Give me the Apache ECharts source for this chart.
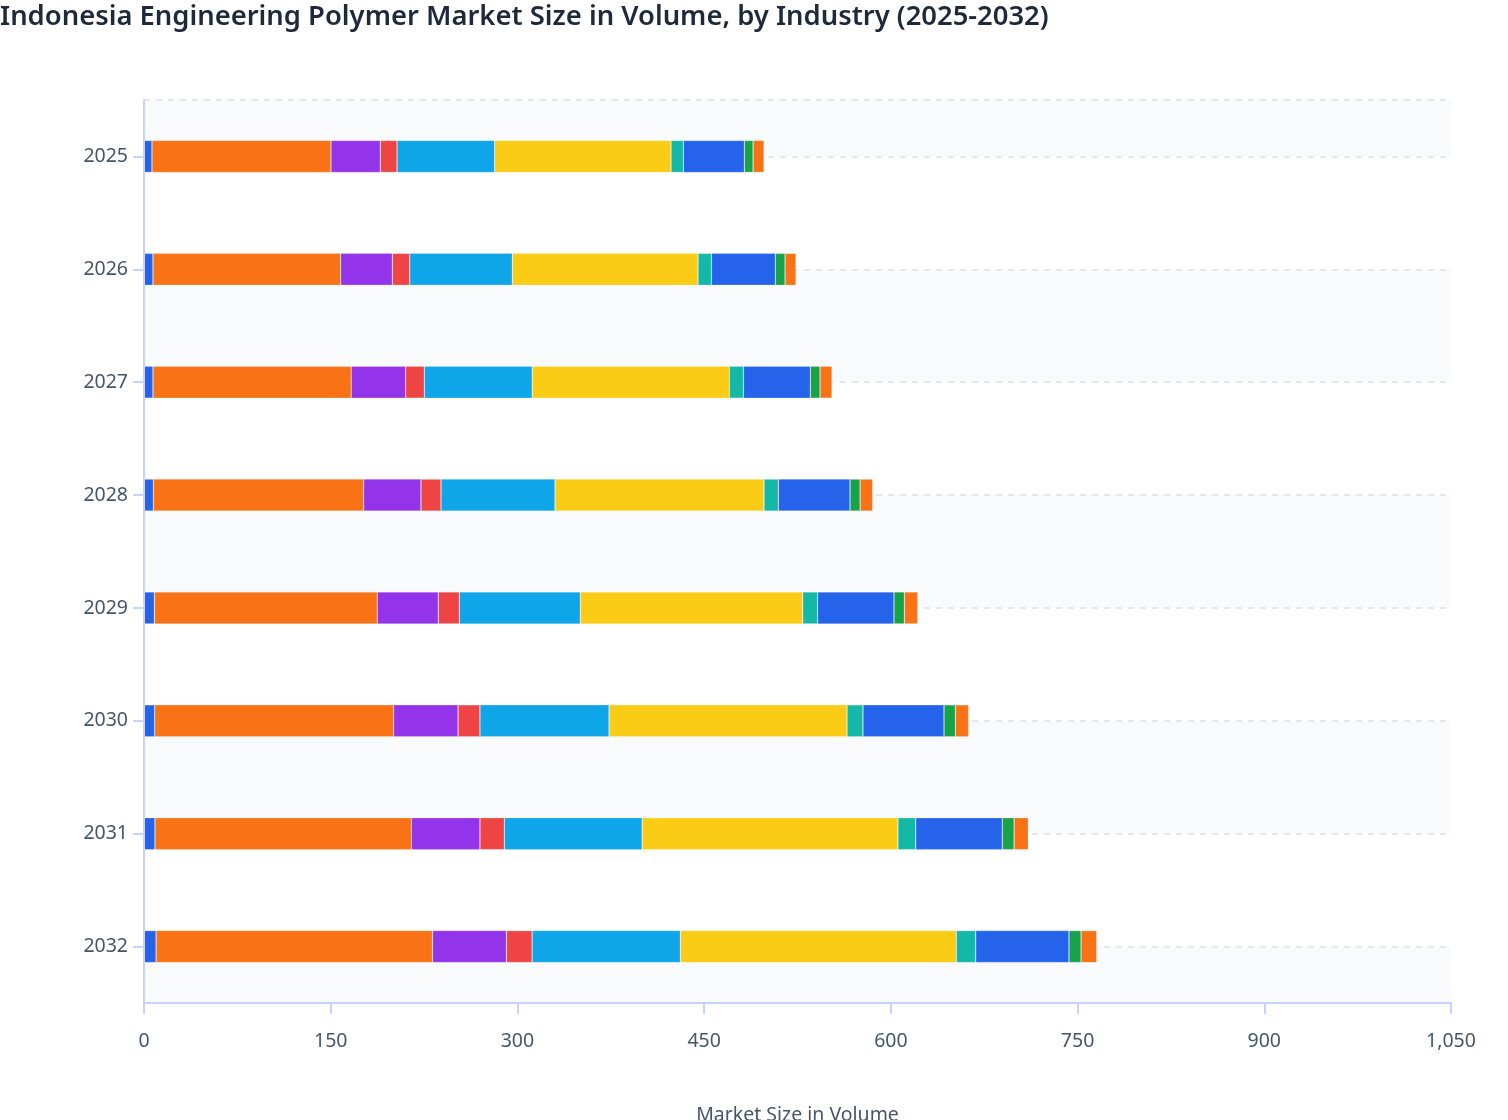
<!DOCTYPE html>
<html>
<head>
<meta charset="utf-8">
<title>Indonesia Engineering Polymer Market Size in Volume</title>
<script src="https://cdn.jsdelivr.net/npm/echarts@6/dist/echarts.min.js"></script>
<style>
  html, body { margin: 0; padding: 0; background: #fff; }
  #chart { width: 1508px; height: 1120px; }
</style>
</head>
<body>
<div id="chart"></div>
<script>
const years = ['2025', '2026', '2027', '2028', '2029', '2030', '2031', '2032'];
const xTicks = [0, 150, 300, 450, 600, 750, 900, 1050];

const industries = [
  'Aerospace & Defense', 'Automotive & Transportation', 'Building & Construction',
  'Consumer Appliances', 'Electrical & Electronics', 'Industrial & Machinery',
  'Medical', 'Packaging', 'Sports & Leisure', 'Others'
];
const colors = ['#2563eb', '#f97316', '#9333ea', '#ef4444', '#0ea5e9',
  '#facc15', '#14b8a6', '#2563eb', '#16a34a', '#f97316'];

const aerospace = [6.4, 7.2, 7.2, 7.5, 8.3, 8.6, 8.8, 9.7];
const automotive = [143.8, 150.8, 159.3, 169.0, 179.1, 192.0, 206.0, 222.1];
const construction = [39.6, 41.5, 43.7, 46.0, 49.0, 51.7, 55.1, 59.3];
const appliances = [13.5, 14.0, 15.0, 16.1, 16.9, 17.6, 19.6, 20.7];
const electrical = [78.4, 82.4, 86.7, 91.6, 97.2, 103.7, 110.7, 119.1];
const industrial = [141.7, 149.2, 158.3, 167.9, 178.7, 191.2, 205.5, 221.7];
const medical = [9.9, 10.7, 11.3, 11.5, 12.0, 12.8, 14.3, 15.6];
const packaging = [49.0, 51.4, 53.8, 57.6, 61.3, 65.1, 69.5, 74.9];
const sports = [7.0, 7.8, 7.8, 8.1, 8.3, 9.1, 9.5, 9.7];
const others = [8.8, 8.8, 9.6, 10.1, 10.8, 10.7, 11.4, 12.6];

const values = [aerospace, automotive, construction, appliances, electrical,
  industrial, medical, packaging, sports, others];

const labelColor = '#475569';
const axisColor = '#c7d2fe';
const fontFamily = 'Noto Sans';

const series = industries.map(function (name, i) {
  return {
    name: name,
    type: 'bar',
    stack: 'total',
    barWidth: 32,
    itemStyle: {
      color: colors[i],
      borderColor: 'rgba(255,255,255,0.35)',
      borderWidth: 0.6
    },
    emphasis: { disabled: true },
    data: values[i]
  };
});

const chart = echarts.init(document.getElementById('chart'));
const option = {
  backgroundColor: '#fff',
  animation: false,
  title: {
    text: 'Indonesia Engineering Polymer Market Size in Volume, by Industry (2025-2032)',
    left: 0,
    top: 4,
    padding: 0,
    textStyle: {
      fontFamily: fontFamily,
      fontSize: 27.4,
      fontWeight: 600,
      color: '#1e293b'
    }
  },
  grid: {
    left: 144,
    right: 57,
    top: 100,
    bottom: 117,
    outerBoundsMode: 'none'
  },
  xAxis: {
    type: 'value',
    min: 0,
    max: 1050,
    interval: 150,
    name: 'Market Size in Volume',
    nameLocation: 'middle',
    nameGap: 102,
    nameTextStyle: {
      fontFamily: fontFamily,
      fontSize: 19.5,
      color: labelColor
    },
    axisLine: { show: true, onZero: false, lineStyle: { color: axisColor, width: 2 } },
    axisTick: { show: true, length: 11, lineStyle: { color: axisColor, width: 2 } },
    axisLabel: {
      margin: 28,
      fontFamily: fontFamily,
      fontSize: 19.5,
      color: labelColor,
      formatter: function (v) {
        return xTicks.indexOf(v) >= 0 ? v.toLocaleString('en-US') : '';
      }
    },
    splitLine: { show: false },
    z: 3
  },
  yAxis: [{
    type: 'category',
    data: years,
    inverse: true,
    axisLine: { show: true, onZero: false, lineStyle: { color: axisColor, width: 2 } },
    axisTick: { show: true, alignWithLabel: true, length: 11, lineStyle: { color: axisColor, width: 2 } },
    axisLabel: {
      margin: 16,
      fontFamily: fontFamily,
      fontSize: 19.5,
      color: labelColor
    },
    splitLine: { show: false },
    splitArea: { show: false },
    z: 3
  }, {
    // background bands and dashed guides, one per year plus the half bands at the ends
    type: 'value',
    position: 'left',
    inverse: true,
    min: -0.5,
    max: years.length - 0.5,
    splitNumber: years.length,
    axisLine: { show: false },
    axisTick: { show: false },
    axisLabel: { show: false },
    splitLine: {
      show: true,
      lineStyle: { color: '#e5e7eb', type: [6, 6], width: 2 }
    },
    splitArea: {
      show: true,
      areaStyle: { color: ['#f8fafc', '#ffffff'] }
    }
  }],
  series: series
};
chart.setOption(option);
</script>
</body>
</html>
